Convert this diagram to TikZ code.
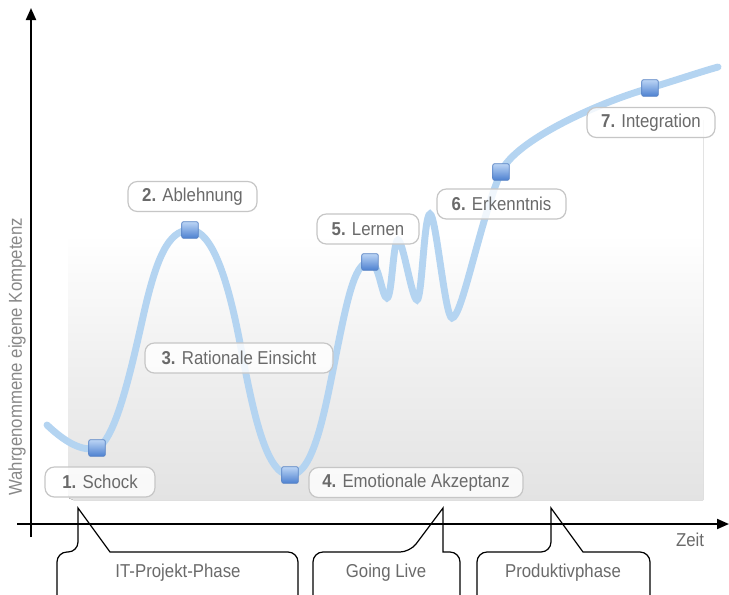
\documentclass[tikz,border=0pt]{standalone}
\usepackage{fontspec}
\setmainfont[FakeStretch=0.9]{Liberation Sans}
\usetikzlibrary{arrows.meta}
\definecolor{curveblue}{HTML}{B4D4F1}
\definecolor{labelgray}{HTML}{6A6A6A}
\definecolor{boxgray}{HTML}{C6C6C6}
\definecolor{panelmid}{HTML}{EFEFEF}
\definecolor{panelbot}{HTML}{E3E3E3}
\definecolor{mkborder}{HTML}{5A84C4}
\definecolor{mktop}{HTML}{BCD5F5}
\definecolor{mkbot}{HTML}{4C80D0}
% background fades from white at the top to light grey at the bottom
\pgfdeclareverticalshading{panelshade}{100bp}{color(0bp)=(panelbot); color(25bp)=(panelbot);
  color(42bp)=(panelmid); color(60bp)=(white); color(100bp)=(white)}
\tikzset{
  lbl/.style={draw=boxgray, line width=0.9pt, fill=white, fill opacity=0.8, text opacity=1,
    rounded corners=7pt, minimum height=22.5pt, inner sep=0pt, text=labelgray,
    font=\fontsize{14}{16}\selectfont},
  marker/.style={draw=mkborder, line width=0.6pt, top color=mktop, bottom color=mkbot,
    rounded corners=1.5pt, minimum size=12.5pt, inner sep=0pt},
  curve/.style={draw=curveblue, line width=5.2pt, line cap=round},
  axis/.style={line width=1.5pt, -{Triangle[length=9pt,width=7.5pt]}},
  callout/.style={line width=0.9pt},
  ctext/.style={text=labelgray, font=\fontsize{14}{16}\selectfont},
}
\begin{document}
\begin{tikzpicture}[x=0.75pt,y=-0.75pt]
\useasboundingbox (0,0) rectangle (729,594);
\clip (0,0) rectangle (729,594);

% shaded background panel, rounded at the bottom only
\fill[shading=panelshade] (68,120) -- (703,120) -- (703,500)
  [rounded corners=4pt] -- (68,500) -- (68,120);

% phase callouts below the time axis
\draw[callout] (57,610) [rounded corners=7.5pt] -- (57,552) -- (78,552)
  [sharp corners] -- (78,508) -- (110,552) [rounded corners=7.5pt] -- (298,552) -- (298,610);
\draw[callout] (313,610) [rounded corners=7.5pt] -- (313,552) -- (410,552)
  [sharp corners] -- (443,508) -- (443,552) [rounded corners=7.5pt] -- (460,552) -- (460,610);
\draw[callout] (477,610) [rounded corners=7.5pt] -- (477,552) -- (551,552)
  [sharp corners] -- (551,508) -- (583,552) [rounded corners=7.5pt] -- (650,552) -- (650,610);
\node[ctext] (p1) at (178,573) {IT-Projekt-Phase};
\node[ctext] (p2) at (386,573) {Going Live};
\node[ctext] (p3) at (563,573) {Produktivphase};

% axes
\coordinate (ybot) at (31,537);
\coordinate (ytop) at (31,8);
\coordinate (xleft) at (17,524);
\coordinate (xright) at (729,524);
\draw[axis] (ybot) -- (ytop);
\draw[axis] (xleft) -- (xright);
\node[ctext] (zeit) at (690,540) {Zeit};
\node[ctext, text=labelgray!80, rotate=90] (ylab) at (17,357) {Wahrgenommene eigene Kompetenz};

% competence curve through the phase points
\coordinate (c1) at (97,448);
\coordinate (c2) at (190,230);
\coordinate (c4) at (290,475);
\coordinate (c5) at (370,262);
\coordinate (c6) at (501,172);
\coordinate (c7) at (650,88);
\draw[curve] (47,425) .. controls (65,442) and (82,452) .. (c1)
  .. controls (115,440) and (130,375) .. (143,317)
  .. controls (156,259) and (168,230) .. (c2)
  .. controls (212,230) and (228,280) .. (240,343)
  .. controls (252,406) and (265,475) .. (c4)
  .. controls (314,475) and (325,410) .. (337,350)
  .. controls (349,290) and (356,262) .. (c5)
  .. controls (379,262) and (382,298) .. (387,298)
  .. controls (392,298) and (393,240) .. (398,240)
  .. controls (403,240) and (412,300) .. (417,300)
  .. controls (422,300) and (424,214) .. (430,214)
  .. controls (436,214) and (445,318) .. (452,318)
  .. controls (462,318) and (480,220) .. (c6)
  .. controls (515,140) and (600,102) .. (c7)
  .. controls (680,79) and (700,72) .. (718,67);

% phase markers
\node[marker] (m1) at (c1) {};
\node[marker] (m2) at (c2) {};
\node[marker] (m4) at (c4) {};
\node[marker] (m5) at (c5) {};
\node[marker] (m6) at (c6) {};
\node[marker] (m7) at (c7) {};

% phase labels
\node[lbl, minimum width=82.5pt] (l1) at (100,482) {\textbf{1.} Schock};
\node[lbl, minimum width=96.75pt] (l2) at (192.5,196.5) {\textbf{2.} Ablehnung};
\node[lbl, minimum width=141pt] (l3) at (239,358) {\textbf{3.} Rationale Einsicht};
\node[lbl, minimum width=160.5pt] (l4) at (416,482.5) {\textbf{4.} Emotionale Akzeptanz};
\node[lbl, minimum width=76.5pt] (l5) at (368,229) {\textbf{5.} Lernen};
\node[lbl, minimum width=96.75pt] (l6) at (501.5,204) {\textbf{6.} Erkenntnis};
\node[lbl, minimum width=96pt] (l7) at (651,122.5) {\textbf{7.} Integration};
\end{tikzpicture}
\end{document}
